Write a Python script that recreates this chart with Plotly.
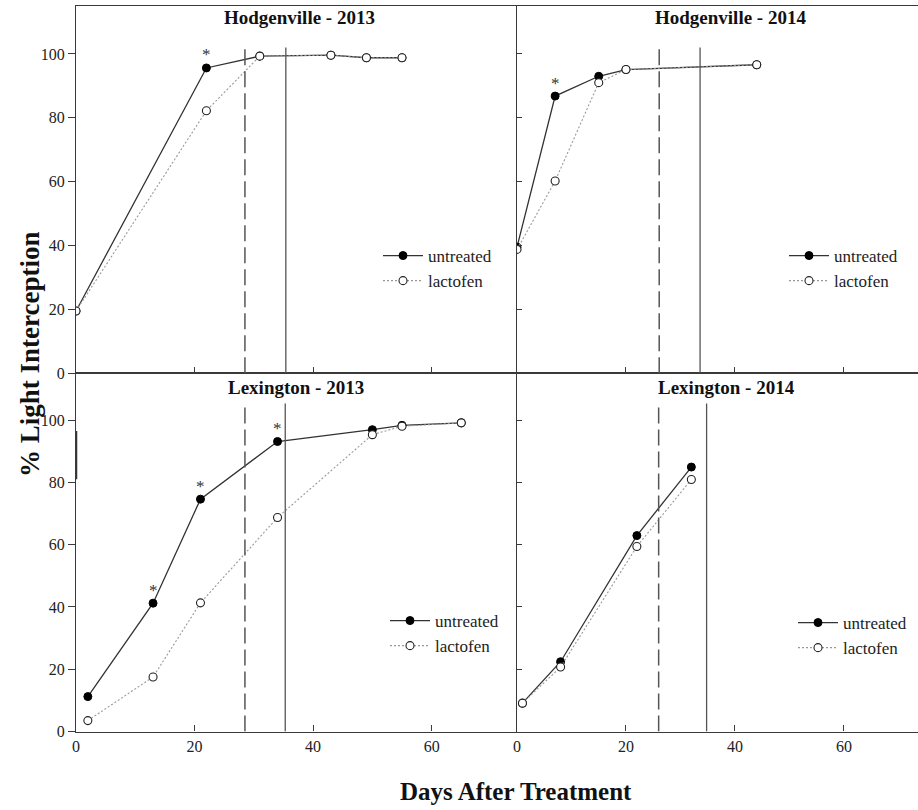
import plotly.graph_objects as go

# ---------------- data ----------------
# Hodgenville 2013
h13_days = [0, 22, 31, 43, 49, 55]
h13_untreated = [19.5, 95.6, 99.3, 99.6, 98.8, 98.8]
h13_lactofen = [19.5, 82.2, 99.3, 99.6, 98.8, 98.8]
h13_sig = [22]

# Hodgenville 2014
h14_days = [0, 7, 15, 20, 44]
h14_untreated = [39.5, 86.8, 93.0, 95.1, 96.6]
h14_lactofen = [38.8, 60.2, 91.0, 95.1, 96.6]
h14_sig = [7]

# Lexington 2013
l13_days = [2, 13, 21, 34, 50, 55, 65]
l13_untreated = [11.2, 41.2, 74.6, 93.1, 96.9, 98.3, 99.1]
l13_lactofen = [3.5, 17.5, 41.3, 68.7, 95.3, 98.0, 99.1]
l13_sig = [13, 21, 34]

# Lexington 2014
l14_days = [1, 8, 22, 32]
l14_untreated = [9.1, 22.4, 62.9, 84.9]
l14_lactofen = [9.1, 20.7, 59.4, 80.9]
l14_sig = []

titles = ["Hodgenville - 2013", "Hodgenville - 2014", "Lexington - 2013", "Lexington - 2014"]
dashed_days = [28.5, 26.1, 28.5, 26.0]
solid_days = [35.4, 33.6, 35.3, 34.8]
ref_line_top = [102, 102, 105.3, 105.3]

y_ticks = [0, 20, 40, 60, 80, 100]
x_ticks = [0, 20, 40, 60]

panels = [
    (h13_days, h13_untreated, h13_lactofen, h13_sig),
    (h14_days, h14_untreated, h14_lactofen, h14_sig),
    (l13_days, l13_untreated, l13_lactofen, l13_sig),
    (l14_days, l14_untreated, l14_lactofen, l14_sig),
]

# ---------------- figure ----------------
W, H = 918, 810
FONT = "Liberation Serif, Times New Roman, serif"
AX = "#3a3a3a"

fig = go.Figure()
legend_names = ["legend", "legend2", "legend3", "legend4"]

for i, (days, unt, lac, sig) in enumerate(panels):
    xa = "x" if i == 0 else f"x{i+1}"
    ya = "y" if i == 0 else f"y{i+1}"
    fig.add_trace(go.Scatter(
        x=days, y=unt, mode="lines+markers", name="untreated",
        xaxis=xa, yaxis=ya, legend=legend_names[i],
        line=dict(color="#333333", width=1.3),
        marker=dict(symbol="circle", size=8, color="black", line=dict(color="black", width=1)),
    ))
    fig.add_trace(go.Scatter(
        x=days, y=lac, mode="lines+markers", name="lactofen",
        xaxis=xa, yaxis=ya, legend=legend_names[i],
        line=dict(color="#999999", width=1.1, dash="2px,2px"),
        marker=dict(symbol="circle", size=8, color="white", line=dict(color="#222222", width=1.1)),
    ))
    # significance asterisks
    for d in sig:
        yv = unt[days.index(d)]
        fig.add_annotation(x=d, y=yv, xref=xa, yref=ya, text="*", showarrow=False,
                           yshift=13, font=dict(family=FONT, size=17, color="#333"))
    # reference lines
    fig.add_shape(type="line", xref=xa, yref=ya, x0=dashed_days[i], x1=dashed_days[i],
                  y0=0, y1=ref_line_top[i], line=dict(color="#555555", width=1.5, dash="16px,6px"))
    fig.add_shape(type="line", xref=xa, yref=ya, x0=solid_days[i], x1=solid_days[i],
                  y0=0, y1=ref_line_top[i], line=dict(color="#555555", width=1.3))

# geometry (pixels -> paper)
xl0, xm, xr1 = 76 / W, 517 / W, 1.0
top_dom = [1 - 373.3 / H, 1 - 6 / H]
bot_dom = [1 - 731.5 / H, 1 - 373.3 / H]

def xaxis(domain, anchor, rng, labels):
    return dict(domain=domain, anchor=anchor, range=rng, showgrid=False, zeroline=False,
                showline=True, linecolor=AX, linewidth=1.2, mirror=True,
                ticks="inside", ticklen=6, tickwidth=1, tickcolor=AX,
                tickvals=x_ticks if labels else x_ticks[1:], showticklabels=labels,
                tickfont=dict(family=FONT, size=16, color="#222"), automargin=False)

def yaxis(domain, anchor, labels):
    return dict(domain=domain, anchor=anchor, range=[0, 115], showgrid=False, zeroline=False,
                showline=True, linecolor=AX, linewidth=1.2, mirror=False,
                ticks="outside" if labels else "inside", ticklen=7 if labels else 5,
                tickwidth=1, tickcolor=AX, tickvals=y_ticks, showticklabels=labels,
                tickfont=dict(family=FONT, size=16, color="#222"), automargin=False)

fig.update_layout(
    width=W, height=H,
    margin=dict(l=0, r=0, t=0, b=0),
    paper_bgcolor="white", plot_bgcolor="white",
    xaxis=xaxis([xl0, xm], "y", [0, 74.4], False),
    yaxis=yaxis(top_dom, "x", True),
    xaxis2=xaxis([xm, xr1], "y2", [0, 73.6], False),
    yaxis2=yaxis(top_dom, "x2", False),
    xaxis3=xaxis([xl0, xm], "y3", [0, 74.4], True),
    yaxis3=yaxis(bot_dom, "x3", True),
    xaxis4=xaxis([xm, xr1], "y4", [0, 73.6], True),
    yaxis4=yaxis(bot_dom, "x4", False),
    font=dict(family=FONT, color="#222"),
)

leg_common = dict(bgcolor="rgba(0,0,0,0)", borderwidth=0, font=dict(family=FONT, size=17, color="#222"),
                  xanchor="left", yanchor="top", itemclick=False, tracegroupgap=0, itemwidth=40)
fig.update_layout(
    legend=dict(x=378 / W, y=1 - 238 / H, **leg_common),
    legend2=dict(x=784 / W, y=1 - 238 / H, **leg_common),
    legend3=dict(x=385 / W, y=1 - 603 / H, **leg_common),
    legend4=dict(x=793 / W, y=1 - 605 / H, **leg_common),
)

# panel titles
title_pos = [(299, 17), (730, 17), (296, 387), (726, 387)]
for t, (px, py) in zip(titles, title_pos):
    fig.add_annotation(x=px / W, y=1 - py / H, xref="paper", yref="paper", text=f"<b>{t}</b>",
                       showarrow=False, xanchor="center", yanchor="middle",
                       font=dict(family=FONT, size=19, color="#111"))

# axis titles
fig.add_annotation(x=516 / W, y=1 - 791 / H, xref="paper", yref="paper", text="<b>Days After Treatment</b>",
                   showarrow=False, xanchor="center", yanchor="middle",
                   font=dict(family=FONT, size=25, color="#111"))
fig.add_annotation(x=30 / W, y=1 - 354 / H, xref="paper", yref="paper", text="<b>% Light Interception</b>",
                   showarrow=False, textangle=-90, xanchor="center", yanchor="middle",
                   font=dict(family=FONT, size=27, color="#111"))

# small dark mark on the lower-left axis (artifact in source)
fig.add_shape(type="line", xref="x3", yref="y3", x0=0, x1=0, y0=81, y1=96.5,
              line=dict(color="#333", width=2.5))

fig.write_html("out.html", config={"displayModeBar": False},
               post_script="document.body.style.margin='0px';document.body.style.overflow='hidden';")
